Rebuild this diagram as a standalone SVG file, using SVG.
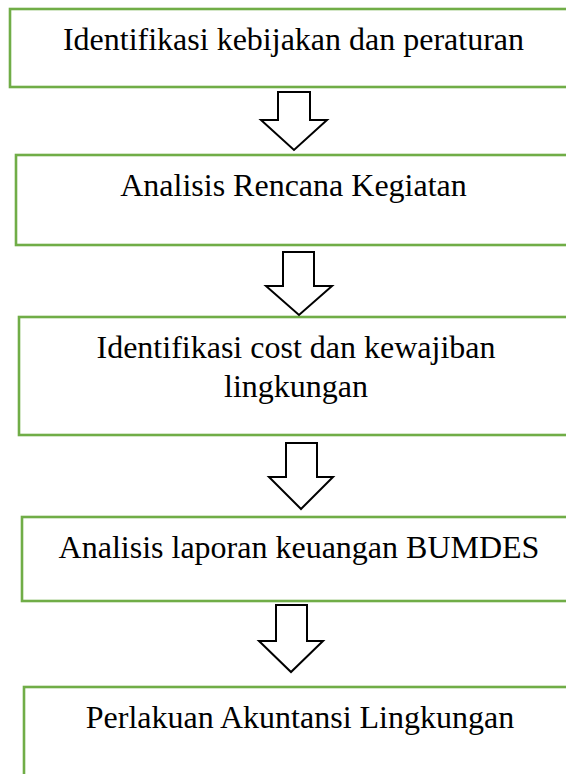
<svg xmlns="http://www.w3.org/2000/svg" width="566" height="774" viewBox="0 0 566 774">
<style>
.box{fill:#ffffff;stroke:#70AD47;stroke-width:2.6}
.lbl{font-family:"Liberation Serif","Times New Roman",serif;font-size:32px;fill:#000000;text-anchor:middle}
.arr{fill:#ffffff;stroke:#000000;stroke-width:2;stroke-linejoin:miter}
</style>
<rect width="566" height="774" fill="#ffffff"/>
<g id="node1">
<rect class="box" x="10" y="9" width="580" height="78"/>
<text class="lbl" x="293.5" y="50">Identifikasi kebijakan dan peraturan</text>
</g>
<g id="node2">
<rect class="box" x="16" y="155" width="580" height="90"/>
<text class="lbl" x="293.5" y="196">Analisis Rencana Kegiatan</text>
</g>
<g id="node3">
<rect class="box" x="19" y="317" width="580" height="118"/>
<text class="lbl" x="296" y="358">Identifikasi cost dan kewajiban</text>
<text class="lbl" x="296" y="397">lingkungan</text>
</g>
<g id="node4">
<rect class="box" x="22" y="517" width="580" height="84"/>
<text class="lbl" x="299" y="558">Analisis laporan keuangan BUMDES</text>
</g>
<g id="node5">
<rect class="box" x="24" y="687" width="580" height="100"/>
<text class="lbl" x="300" y="728">Perlakuan Akuntansi Lingkungan</text>
</g>
<g id="connectors">
<polygon class="arr" points="278,92 310,92 310,120 327,120 294,150 261,120 278,120"/>
<polygon class="arr" points="283,252 314,252 314,286 332,286 299,315 266,286 283,286"/>
<polygon class="arr" points="286,443 317,443 317,477 333,477 301,509 269,477 286,477"/>
<polygon class="arr" points="276,605 307,605 307,641 323,641 291,672 259,641 276,641"/>
</g>
</svg>
